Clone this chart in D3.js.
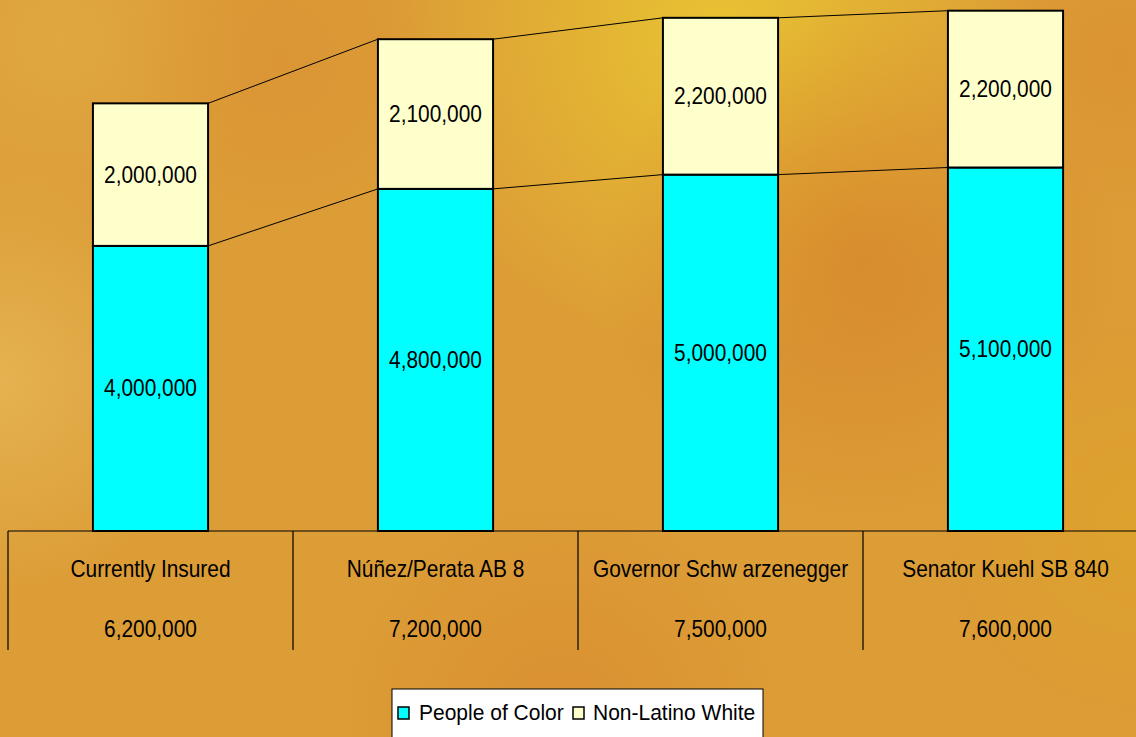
<!DOCTYPE html>
<html>
<head>
<meta charset="utf-8">
<script src="https://cdn.jsdelivr.net/npm/d3@7"></script>
<style>
  html, body { margin: 0; padding: 0; overflow: hidden; }
  svg { display: block; }
  text { font-family: "Liberation Sans", Arial, sans-serif; fill: #000; }
</style>
</head>
<body>
<svg id="chart" width="1136" height="737"></svg>
<script>
const categories = ["Currently Insured", "Núñez/Perata AB 8", "Governor Schw arzenegger", "Senator Kuehl SB 840"];
const peopleOfColor = [4000000, 4800000, 5000000, 5100000];
const nonLatinoWhite = [2000000, 2100000, 2200000, 2200000];
const totals = [6200000, 7200000, 7500000, 7600000];
const seriesNames = ["People of Color", "Non-Latino White"];
const seriesColors = ["#00FFFF", "#FFFFCC"];

const W = 1136, H = 737;
const svg = d3.select("#chart");
const defs = svg.append("defs");

// Background texture approximation
function radial(id, cx, cy, r, color, op) {
  const g = defs.append("radialGradient").attr("id", id)
    .attr("gradientUnits", "userSpaceOnUse")
    .attr("cx", cx).attr("cy", cy).attr("r", r);
  g.append("stop").attr("offset", "0%").attr("stop-color", color).attr("stop-opacity", op);
  g.append("stop").attr("offset", "100%").attr("stop-color", color).attr("stop-opacity", 0);
}
svg.append("rect").attr("width", W).attr("height", H).attr("fill", "#DC9C36");
radial("g1", 720, 30, 330, "#E8C532", 0.95);
radial("g2", 0, 380, 220, "#E6B856", 0.8);
radial("g3", 860, 260, 260, "#D6862C", 0.8);
radial("g4", 560, 720, 220, "#D8882E", 0.6);
radial("g5", 1136, 520, 200, "#DDA428", 0.7);
radial("g6", 60, 40, 200, "#E2AE48", 0.6);
radial("g7", 280, 60, 160, "#D98E34", 0.5);
radial("g8", 1120, 60, 160, "#D98C30", 0.5);
["g1","g2","g3","g4","g5","g6","g7","g8"].forEach(id =>
  svg.append("rect").attr("width", W).attr("height", H).attr("fill", `url(#${id})`));

// Condensed text helper (reference glyphs are tall and narrow)
function label(parent, tx, ty, str, size, sx, anchor) {
  return parent.append("text")
    .attr("transform", `translate(${tx},${ty}) scale(${sx},1)`)
    .attr("text-anchor", anchor || "middle")
    .attr("dominant-baseline", "central")
    .attr("font-size", size)
    .text(str);
}

// Scales
const x = d3.scaleBand().domain(categories).range([8, 1148]).paddingInner(0.596).paddingOuter(0.298);
const y = d3.scaleLinear().domain([0, 7450000]).range([531, 0]);

const stack = categories.map((c, i) => ({
  cat: c,
  segs: [
    { s: 0, y0: 0, y1: peopleOfColor[i], v: peopleOfColor[i] },
    { s: 1, y0: peopleOfColor[i], y1: peopleOfColor[i] + nonLatinoWhite[i], v: nonLatinoWhite[i] }
  ]
}));

// Series connector lines
const g = svg.append("g");
const cumTop = peopleOfColor.map((v, k) => v + nonLatinoWhite[k]);
for (let i = 0; i < categories.length - 1; i++) {
  [peopleOfColor, cumTop].forEach(arr => {
    g.append("line")
      .attr("x1", x(categories[i]) + x.bandwidth()).attr("y1", y(arr[i]))
      .attr("x2", x(categories[i + 1])).attr("y2", y(arr[i + 1]))
      .attr("stroke", "#000").attr("stroke-width", 1);
  });
}

// Bars
stack.forEach(d => {
  d.segs.forEach(s => {
    g.append("rect")
      .attr("x", x(d.cat)).attr("width", x.bandwidth())
      .attr("y", y(s.y1)).attr("height", y(s.y0) - y(s.y1))
      .attr("fill", seriesColors[s.s]).attr("stroke", "#000").attr("stroke-width", 2);
  });
  d.segs.forEach(s => {
    label(g, x(d.cat) + x.bandwidth() / 2, (y(s.y0) + y(s.y1)) / 2, d3.format(",")(s.v), 24, 0.87);
  });
});

// Data table below axis
const tbl = svg.append("g");
tbl.append("line").attr("x1", 8).attr("x2", W).attr("y1", 531).attr("y2", 531)
  .attr("stroke", "#000").attr("stroke-width", 1.2);
categories.forEach((c, i) => {
  const left = x(c) - x.step() * x.paddingInner() / 2;
  tbl.append("line").attr("x1", left).attr("x2", left).attr("y1", 531).attr("y2", 650)
    .attr("stroke", "#000").attr("stroke-width", 1.2);
  const cx = x(c) + x.bandwidth() / 2;
  label(tbl, cx, 569, c, 24, 0.87);
  label(tbl, cx, 629, d3.format(",")(totals[i]), 24, 0.87);
});

// Legend
const lg = svg.append("g");
lg.append("rect").attr("x", 392).attr("y", 689).attr("width", 371).attr("height", 60)
  .attr("fill", "#fff").attr("stroke", "#000").attr("stroke-width", 1);
const items = [{ x: 398, tx: 419 }, { x: 573, tx: 593 }];
seriesNames.forEach((n, i) => {
  lg.append("rect").attr("x", items[i].x).attr("y", 707).attr("width", 11).attr("height", 12)
    .attr("fill", seriesColors[i]).attr("stroke", "#000").attr("stroke-width", 1.5);
  label(lg, items[i].tx, 713, n, 22, 0.955, "start");
});
</script>
</body>
</html>
